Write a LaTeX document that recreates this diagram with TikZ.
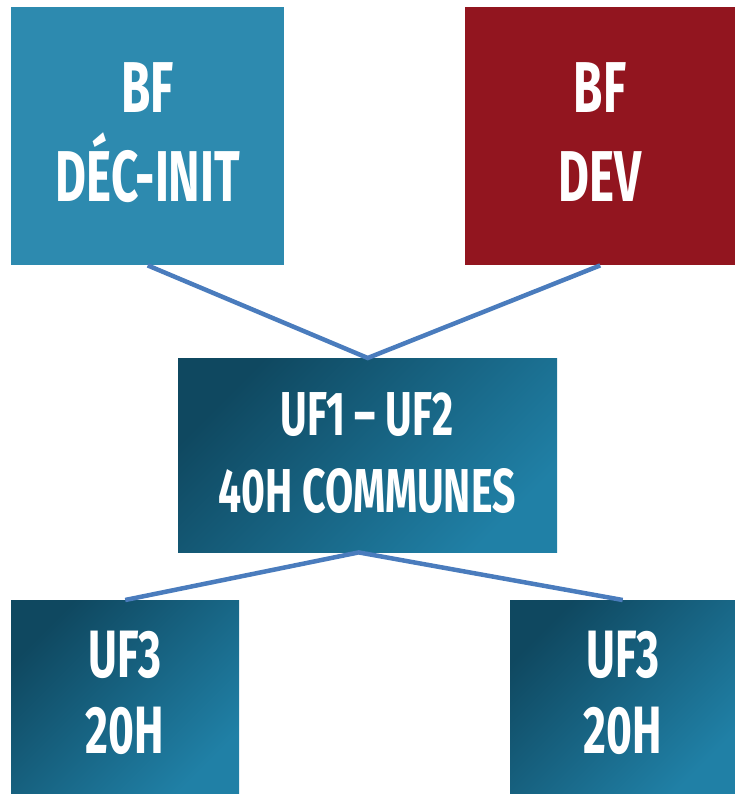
\documentclass[tikz,border=0pt]{standalone}
\usepackage{fontspec}
\setmainfont{Fira Sans}[FakeStretch=0.66]
\definecolor{tealA}{HTML}{2D8AAF}
\definecolor{redA}{HTML}{92151F}
\definecolor{darkT}{HTML}{0F4860}
\definecolor{lightT}{HTML}{2080A6}
\definecolor{lineC}{HTML}{4A7CBD}
\tikzset{
  box/.style={rectangle, draw=none, inner sep=0pt, anchor=north west},
  gradbox/.style={box, shade, top color=darkT, bottom color=lightT, shading angle=45},
  txt/.style={text=white, anchor=base, inner sep=0pt},
  bigf/.style={font=\fontsize{72}{72}\selectfont\bfseries},
  midf/.style={font=\fontsize{62}{62}\selectfont\bfseries},
  lowf/.style={font=\fontsize{67}{67}\selectfont\bfseries},
  conn/.style={draw=lineC, line width=4.5pt}
}
\begin{document}
\begin{tikzpicture}[x=1pt,y=-1pt]
\useasboundingbox (0,0) rectangle (735,794);
% boxes
\node[box, fill=tealA, minimum width=273pt, minimum height=258pt] (tl) at (11,7) {};
\node[box, fill=redA, minimum width=270pt, minimum height=258pt] (tr) at (465,7) {};
\node[gradbox, minimum width=379pt, minimum height=194pt] (mid) at (178,358) {};
\node[gradbox, minimum width=228pt, minimum height=194pt] (bl) at (11,600) {};
\node[gradbox, minimum width=225pt, minimum height=194pt] (br) at (510,600) {};
% connectors
\draw[conn] (tl.south) -- (mid.north) -- (tr.south);
\coordinate (apex) at ([xshift=-9pt]mid.south);
\draw[conn] (bl.north) -- (apex) -- (br.north);
% texts
\node[txt, bigf] (tlA) at (147.5,113) {BF};
\node[txt, bigf] (tlB) at (148,202) {DÉC-INIT};
\node[txt, bigf] (trA) at (600,113) {BF};
\node[txt, bigf] (trB) at (600,202) {DEV};
\node[txt, midf] (midA) at (367,435) {UF1 – UF2};
\node[txt, midf] (midB) at (367,512) {40H COMMUNES};
\node[txt, lowf] (blA) at (125,677) {UF3};
\node[txt, lowf] (blB) at (125,753) {20H};
\node[txt, lowf] (brA) at (623,677) {UF3};
\node[txt, lowf] (brB) at (623,753) {20H};
\end{tikzpicture}
\end{document}
